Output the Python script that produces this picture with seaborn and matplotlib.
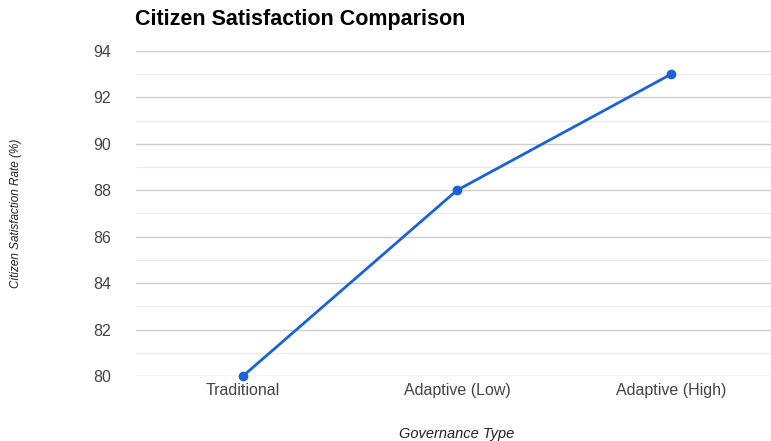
import matplotlib
matplotlib.use("Agg")
import matplotlib.pyplot as plt
import pandas as pd
import seaborn as sns
from matplotlib.ticker import MultipleLocator

# data
governance = ["Traditional", "Adaptive (Low)", "Adaptive (High)"]
satisfaction = [80, 88, 93]

sns.set_style("white")
plt.rcParams["font.family"] = ["Liberation Sans", "DejaVu Sans"]

df = pd.DataFrame({"Governance Type": governance, "Satisfaction": satisfaction})

fig = plt.figure(figsize=(7.71, 4.41), dpi=100)
ax = fig.add_axes([0.1764, 0.1474, 0.8236, 0.737])

sns.lineplot(data=df, x="Governance Type", y="Satisfaction", ax=ax,
             color="#1a62d6", linewidth=2, marker="o", markersize=7,
             markeredgewidth=0, zorder=3, clip_on=False)

ax.set_xlim(-0.5, 2.467)
ax.set_ylim(80, 94)
ax.yaxis.set_major_locator(MultipleLocator(2))
ax.yaxis.set_minor_locator(MultipleLocator(1))
ax.grid(axis="y", which="major", color="#cccccc", linewidth=1)
ax.grid(axis="y", which="minor", color="#ebebeb", linewidth=1)
ax.set_axisbelow(True)
for s in ax.spines.values():
    s.set_visible(False)

ax.tick_params(axis="both", which="both", length=0, labelsize=11.5, colors="#444444")
ax.tick_params(axis="y", pad=18)
ax.tick_params(axis="x", pad=5)

ax.set_xlabel("Governance Type", fontsize=10.5, style="italic", color="#222222")
ax.xaxis.set_label_coords(0.5055, -0.158)
ax.set_ylabel("Citizen Satisfaction Rate (%)", fontsize=8.5, style="italic", color="#222222")
ax.yaxis.set_label_coords(-0.18, 0.5)

fig.text(0.175, 0.955, "Citizen Satisfaction Comparison", fontsize=15.5,
         fontweight="bold", color="#000000", ha="left", va="center")

fig.savefig("out.png", dpi=100)
